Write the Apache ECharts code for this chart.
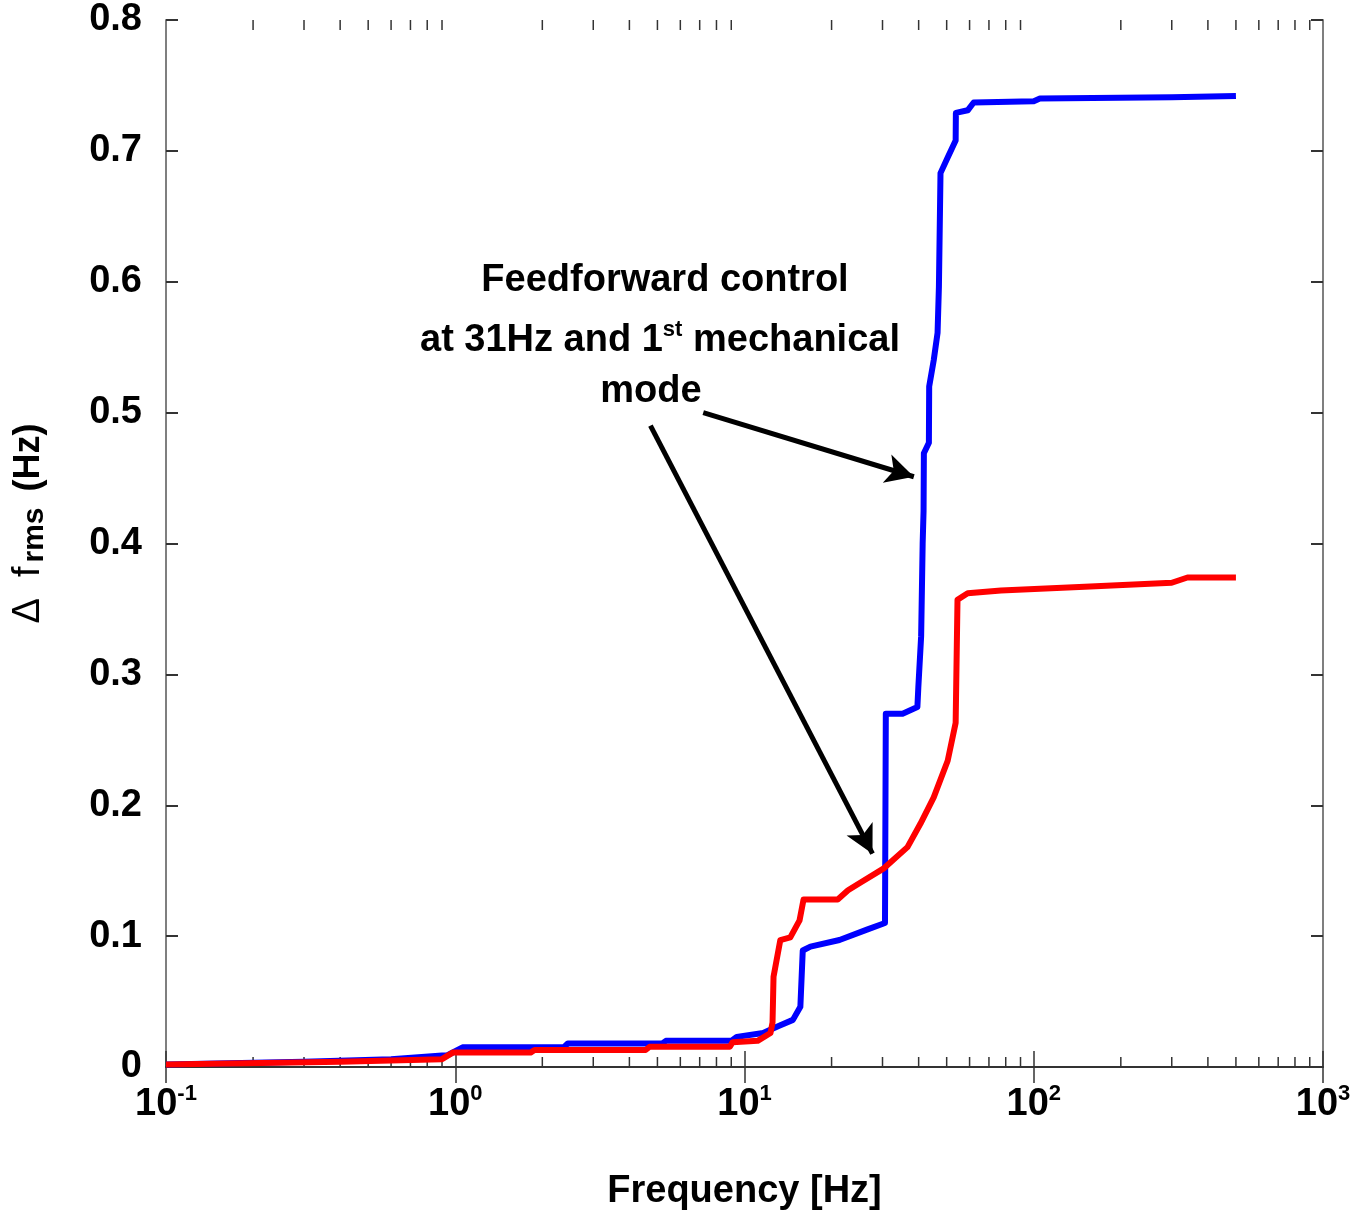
<!DOCTYPE html>
<html>
<head>
<meta charset="utf-8">
<script src="https://cdn.jsdelivr.net/npm/echarts@6/dist/echarts.min.js"></script>
<style>
  html, body { margin: 0; padding: 0; background: #fff; }
  #chart { width: 1358px; height: 1222px; }
</style>
</head>
<body>
<div id="chart"></div>
<script>
// blue curve (without feedforward)
var blueFreq = [0.1, 0.3, 0.6, 0.9, 0.94, 1.06, 2.37, 2.45, 5.2, 5.35, 9.0, 9.4, 11.6, 13.0, 14.7, 15.6, 15.9, 16.9, 21.3, 26.5, 30.6, 30.8, 35.2, 39.6, 39.9, 40.8, 41.3, 41.6, 41.7, 43.4, 43.5, 45.1, 46.5, 47.0, 47.6, 50.4, 53.7, 53.8, 59.1, 62.0, 100, 105, 300, 500];
var blueVal  = [0.002, 0.004, 0.006, 0.0087, 0.009, 0.015, 0.015, 0.018, 0.018, 0.020, 0.020, 0.023, 0.026, 0.031, 0.036, 0.046, 0.089, 0.092, 0.097, 0.105, 0.110, 0.270, 0.270, 0.275, 0.290, 0.329, 0.400, 0.425, 0.469, 0.477, 0.520, 0.540, 0.561, 0.596, 0.683, 0.695, 0.708, 0.729, 0.731, 0.737, 0.738, 0.740, 0.741, 0.742];

// red curve (with feedforward)
var redFreq = [0.1, 0.4, 0.9, 0.98, 1.82, 1.88, 4.55, 4.7, 8.9, 9.1, 11.1, 12.3, 12.5, 12.6, 13.3, 14.4, 15.5, 16.0, 21.0, 22.8, 25.2, 30.4, 36.6, 40.6, 45.1, 50.4, 53.7, 54.5, 59.1, 77, 150, 300, 340, 500];
var redVal  = [0.002, 0.004, 0.006, 0.011, 0.011, 0.013, 0.013, 0.0155, 0.0155, 0.019, 0.020, 0.026, 0.034, 0.069, 0.097, 0.099, 0.112, 0.128, 0.128, 0.135, 0.141, 0.152, 0.168, 0.186, 0.206, 0.234, 0.263, 0.357, 0.362, 0.364, 0.367, 0.370, 0.374, 0.374];

// minor tick positions on the log axis
var minorTicks = [0.2, 0.3, 0.4, 0.5, 0.6, 0.7, 0.8, 0.9, 2, 3, 4, 5, 6, 7, 8, 9, 20, 30, 40, 50, 60, 70, 80, 90, 200, 300, 400, 500, 600, 700, 800, 900];

// annotation arrows [from, to] in data coords
var arrowBlue = [[7.2, 0.500], [38.5, 0.451]];
var arrowRed  = [[4.73, 0.490], [27.7, 0.163]];

function zip(xs, ys) {
  var out = [];
  for (var i = 0; i < xs.length; i++) out.push([xs[i], ys[i]]);
  return out;
}

var font = 'Liberation Sans, Arial, sans-serif';
var chart = echarts.init(document.getElementById('chart'));

var xLabelRich = {
  b: { fontSize: 38, fontWeight: 'bold', fontFamily: font, color: '#000', lineHeight: 44 },
  s: { fontSize: 22, fontWeight: 'bold', fontFamily: font, color: '#000', lineHeight: 18, verticalAlign: 'top' }
};

var option = {
  animation: false,
  backgroundColor: '#fff',
  grid: { left: 166, right: 35, top: 20, bottom: 155, outerBoundsMode: 'none', containLabel: false },
  xAxis: [{
    type: 'log', logBase: 10, min: 0.1, max: 1000, splitNumber: 4,
    name: 'Frequency [Hz]', nameLocation: 'middle', nameGap: 106,
    nameTextStyle: { fontSize: 38, fontWeight: 'bold', fontFamily: font, color: '#000' },
    axisLine: { lineStyle: { color: '#7f7f7f', width: 2 } },
    axisTick: { inside: true, length: 16, lineStyle: { color: '#333', width: 1.5 } },
    splitLine: { show: false },
    axisLabel: {
      margin: 16,
      formatter: function (v) {
        var e = Math.round(Math.log10(v));
        return '{b|10}{s|' + e + '}';
      },
      rich: xLabelRich
    }
  }, {
    type: 'log', logBase: 10, min: 0.1, max: 1000, splitNumber: 4, position: 'top',
    axisLine: { lineStyle: { color: '#333', width: 2 } },
    axisTick: { inside: true, length: 16, lineStyle: { color: '#333', width: 1.5 } },
    axisLabel: { show: false },
    splitLine: { show: false }
  }],
  yAxis: [{
    type: 'value', min: 0, max: 0.8, interval: 0.1,
    name: '{d|Δ  f}{s|rms}{n| (Hz)}', nameLocation: 'middle', nameRotate: 90, nameGap: 116,
    nameTextStyle: {
      padding: [0, 0, 0, 40],
      rich: {
        d: { fontSize: 38, fontFamily: font, color: '#000', lineHeight: 42, padding: [0, 4, 0, 0] },
        s: { fontSize: 30, fontWeight: 'bold', fontFamily: font, color: '#000', lineHeight: 16, verticalAlign: 'bottom', padding: [0, 6, 0, 0] },
        n: { fontSize: 36, fontWeight: 'bold', fontFamily: font, color: '#000', lineHeight: 42 }
      }
    },
    axisLine: { show: true, lineStyle: { color: '#7f7f7f', width: 2 } },
    axisTick: { show: true, inside: true, length: 12, lineStyle: { color: '#333', width: 2 } },
    splitLine: { show: false },
    axisLabel: {
      margin: 24, fontSize: 38, fontWeight: 'bold', fontFamily: font, color: '#000',
      formatter: function (v) { return v === 0 ? '0' : v.toFixed(1); }
    }
  }, {
    type: 'value', min: 0, max: 0.8, interval: 0.1, position: 'right',
    axisLine: { show: true, lineStyle: { color: '#7f7f7f', width: 2 } },
    axisTick: { show: true, inside: true, length: 12, lineStyle: { color: '#333', width: 2 } },
    axisLabel: { show: false },
    splitLine: { show: false }
  }],
  graphic: [
    { type: 'text', z: 100,
      style: { text: 'Feedforward control', x: 665, y: 281, textAlign: 'center', textVerticalAlign: 'middle',
        font: 'bold 38px ' + font, fill: '#000' } },
    { type: 'text', z: 100,
      style: { text: '{a|at 31Hz and 1}{b|st}{a| mechanical}', x: 660, y: 341, align: 'center', verticalAlign: 'middle',
        rich: {
          a: { fontSize: 38, fontWeight: 'bold', fontFamily: font, fill: '#000', lineHeight: 44 },
          b: { fontSize: 22, fontWeight: 'bold', fontFamily: font, fill: '#000', lineHeight: 20, verticalAlign: 'top' }
        } } },
    { type: 'text', z: 100,
      style: { text: 'mode', x: 651, y: 392, textAlign: 'center', textVerticalAlign: 'middle',
        font: 'bold 38px ' + font, fill: '#000' } }
  ],
  series: [{
    name: 'minor ticks', type: 'custom', xAxisIndex: 0, yAxisIndex: 0, silent: true, z: 1,
    data: minorTicks.map(function (v) { return [v, 0]; }),
    renderItem: function (params, api) {
      var b = api.coord([api.value(0), 0]);
      var t = api.coord([api.value(0), 0.8]);
      var st = { stroke: '#333', lineWidth: 1.5 };
      return { type: 'group', children: [
        { type: 'line', shape: { x1: b[0], y1: b[1], x2: b[0], y2: b[1] - 10 }, style: st },
        { type: 'line', shape: { x1: t[0], y1: t[1], x2: t[0], y2: t[1] + 10 }, style: st }
      ] };
    }
  }, {
    name: 'without', type: 'line', showSymbol: false, z: 3,
    data: zip(blueFreq, blueVal),
    lineStyle: { color: '#0000ff', width: 6, join: 'round' },
    itemStyle: { color: '#0000ff' },
    markLine: {
      silent: true, animation: false, symbol: ['none', 'arrow'], symbolSize: [22, 28],
      label: { show: false },
      lineStyle: { color: '#000', width: 5, type: 'solid' },
      data: [
        [{ coord: arrowBlue[0] }, { coord: arrowBlue[1] }],
        [{ coord: arrowRed[0] }, { coord: arrowRed[1] }]
      ]
    }
  }, {
    name: 'with', type: 'line', showSymbol: false, z: 4,
    data: zip(redFreq, redVal),
    lineStyle: { color: '#ff0000', width: 6, join: 'round' },
    itemStyle: { color: '#ff0000' }
  }]
};

chart.setOption(option);
</script>
</body>
</html>
